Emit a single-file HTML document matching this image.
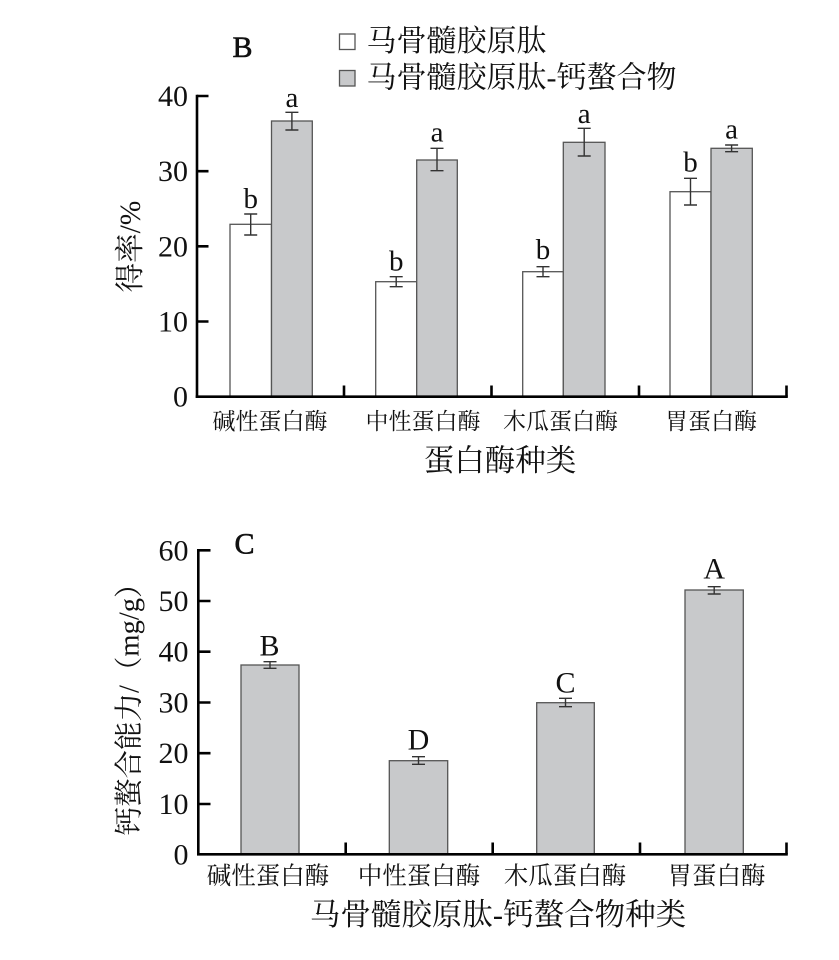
<!DOCTYPE html>
<html>
<head>
<meta charset="utf-8">
<style>
  html, body { margin: 0; padding: 0; background: #ffffff; }
  svg { display: block; }
  .num { font-family: "Liberation Serif", serif; fill: #111; }
  .cjk { font-family: "Liberation Serif", "Noto Serif CJK SC", serif; fill: #111; }
</style>
</head>
<body>
<svg width="839" height="960" viewBox="0 0 839 960" xmlns="http://www.w3.org/2000/svg">
  <rect x="0" y="0" width="839" height="960" fill="#ffffff"/>

  <!-- ================= Chart B ================= -->
  <text class="num" x="232.5" y="57" font-size="30" stroke="#111" stroke-width="0.6">B</text>

  <!-- Legend -->
  <rect x="339.5" y="34" width="15.5" height="15.5" fill="#ffffff" stroke="#555" stroke-width="1.3"/>
  <text class="cjk" x="366.5" y="41.5" font-size="30" dominant-baseline="central">马骨髓胶原肽</text>
  <rect x="339.5" y="70.5" width="15.5" height="15.5" fill="#c8c9cb" stroke="#555" stroke-width="1.3"/>
  <text class="cjk" x="366.5" y="78" font-size="30" dominant-baseline="central">马骨髓胶原肽-钙螯合物</text>

  <!-- Bars B -->
  <g stroke="#555" stroke-width="1.3">
    <rect x="230" y="224.3" width="41.5" height="172.4" fill="#ffffff"/>
    <rect x="271.5" y="121" width="40.8" height="275.7" fill="#c8c9cb"/>
    <rect x="375.7" y="281.7" width="41" height="115" fill="#ffffff"/>
    <rect x="416.7" y="160" width="40.6" height="236.7" fill="#c8c9cb"/>
    <rect x="522.7" y="271.7" width="40.6" height="125" fill="#ffffff"/>
    <rect x="563.3" y="142.3" width="41.7" height="254.4" fill="#c8c9cb"/>
    <rect x="670" y="191.7" width="41" height="205" fill="#ffffff"/>
    <rect x="711" y="148.3" width="41.3" height="248.4" fill="#c8c9cb"/>
  </g>

  <!-- Error bars B -->
  <g stroke="#333" stroke-width="1.4" fill="none">
    <path d="M250.7 214 V235 M244.2 214 H257.2 M244.2 235 H257.2"/>
    <path d="M291.9 112.3 V130 M285.4 112.3 H298.4 M285.4 130 H298.4"/>
    <path d="M396.2 276.7 V286.7 M389.7 276.7 H402.7 M389.7 286.7 H402.7"/>
    <path d="M437 148.3 V170.7 M430.5 148.3 H443.5 M430.5 170.7 H443.5"/>
    <path d="M543 266.7 V276.7 M536.5 266.7 H549.5 M536.5 276.7 H549.5"/>
    <path d="M584.2 128.3 V156 M577.7 128.3 H590.7 M577.7 156 H590.7"/>
    <path d="M690.5 178.3 V205 M684 178.3 H697 M684 205 H697"/>
    <path d="M731.6 145 V151.7 M725.1 145 H738.1 M725.1 151.7 H738.1"/>
  </g>

  <!-- Significance letters B -->
  <g class="num" font-size="29" text-anchor="middle">
    <text x="250.7" y="208">b</text>
    <text x="291.9" y="107">a</text>
    <text x="396.2" y="270.5">b</text>
    <text x="437" y="141.7">a</text>
    <text x="543" y="259">b</text>
    <text x="584.2" y="123">a</text>
    <text x="690.5" y="171.5">b</text>
    <text x="731.6" y="138.5">a</text>
  </g>

  <!-- Axes B -->
  <g stroke="#000" stroke-width="2.6" fill="none">
    <path d="M197 94.7 V397.9"/>
    <path d="M195.7 396.7 H787.8"/>
    <path d="M197 96 H208.5 M197 171.2 H208.5 M197 246.3 H208.5 M197 321.5 H208.5"/>
    <path d="M344 396.7 V385.5 M491.5 396.7 V385.5 M639 396.7 V385.5 M786.5 396.7 V385.5"/>
  </g>
  <g class="num" font-size="30" text-anchor="end">
    <text x="188" y="106">40</text>
    <text x="188" y="181.2">30</text>
    <text x="188" y="256.3">20</text>
    <text x="188" y="331.5">10</text>
    <text x="188" y="406.7">0</text>
  </g>
  <text class="cjk" font-size="29.5" text-anchor="middle" dominant-baseline="central" transform="translate(131,246.5) rotate(-90)">得率/%</text>

  <g class="cjk" font-size="23" text-anchor="middle">
    <text x="270" y="421.5" dominant-baseline="central">碱性蛋白酶</text>
    <text x="423" y="421.5" dominant-baseline="central">中性蛋白酶</text>
    <text x="560.5" y="421.5" dominant-baseline="central">木瓜蛋白酶</text>
    <text x="711" y="421.5" dominant-baseline="central">胃蛋白酶</text>
  </g>
  <text class="cjk" x="500" y="461" font-size="30.5" text-anchor="middle" dominant-baseline="central">蛋白酶种类</text>

  <!-- ================= Chart C ================= -->
  <text class="num" x="234.5" y="553.5" font-size="30" stroke="#111" stroke-width="0.6">C</text>

  <!-- Bars C -->
  <g stroke="#555" stroke-width="1.3" fill="#c8c9cb">
    <rect x="241" y="665" width="58" height="189.3"/>
    <rect x="389.3" y="760.7" width="58.4" height="93.6"/>
    <rect x="536.7" y="702.7" width="57.6" height="151.6"/>
    <rect x="685" y="590" width="58.3" height="264.3"/>
  </g>

  <!-- Error bars C -->
  <g stroke="#333" stroke-width="1.4" fill="none">
    <path d="M270 661.7 V668.3 M263.5 661.7 H276.5 M263.5 668.3 H276.5"/>
    <path d="M418.5 756.7 V764.3 M412 756.7 H425 M412 764.3 H425"/>
    <path d="M565.5 698.3 V706.7 M559 698.3 H572 M559 706.7 H572"/>
    <path d="M714.2 586.7 V594 M707.7 586.7 H720.7 M707.7 594 H720.7"/>
  </g>

  <g class="num" font-size="30" text-anchor="middle">
    <text x="269.5" y="655.5">B</text>
    <text x="418.5" y="749.5">D</text>
    <text x="565.5" y="692.5">C</text>
    <text x="714.2" y="578.5">A</text>
  </g>

  <!-- Axes C -->
  <g stroke="#000" stroke-width="2.6" fill="none">
    <path d="M198.3 549 V855.5"/>
    <path d="M197 854.3 H787.8"/>
    <path d="M198.3 550.3 H210.5 M198.3 601 H210.5 M198.3 651.7 H210.5 M198.3 702.5 H210.5 M198.3 753.2 H210.5 M198.3 804 H210.5"/>
    <path d="M345.7 854.3 V842.5 M492.7 854.3 V842.5 M640 854.3 V842.5 M786.5 854.3 V842.5"/>
  </g>
  <g class="num" font-size="30" text-anchor="end">
    <text x="188.5" y="560.3">60</text>
    <text x="188.5" y="611">50</text>
    <text x="188.5" y="661.7">40</text>
    <text x="188.5" y="712.5">30</text>
    <text x="188.5" y="763.2">20</text>
    <text x="188.5" y="814">10</text>
    <text x="188.5" y="864.3">0</text>
  </g>
  <text class="cjk" font-size="28.5" text-anchor="middle" dominant-baseline="central" transform="translate(130,702.5) rotate(-90)">钙螯合能力/（mg/g）</text>

  <g class="cjk" font-size="24.5" text-anchor="middle">
    <text x="268" y="876.5" dominant-baseline="central">碱性蛋白酶</text>
    <text x="419" y="876.5" dominant-baseline="central">中性蛋白酶</text>
    <text x="565" y="876.5" dominant-baseline="central">木瓜蛋白酶</text>
    <text x="716.5" y="876.5" dominant-baseline="central">胃蛋白酶</text>
  </g>
  <text class="cjk" x="498" y="915" font-size="30.5" text-anchor="middle" dominant-baseline="central">马骨髓胶原肽-钙螯合物种类</text>
</svg>
</body>
</html>
